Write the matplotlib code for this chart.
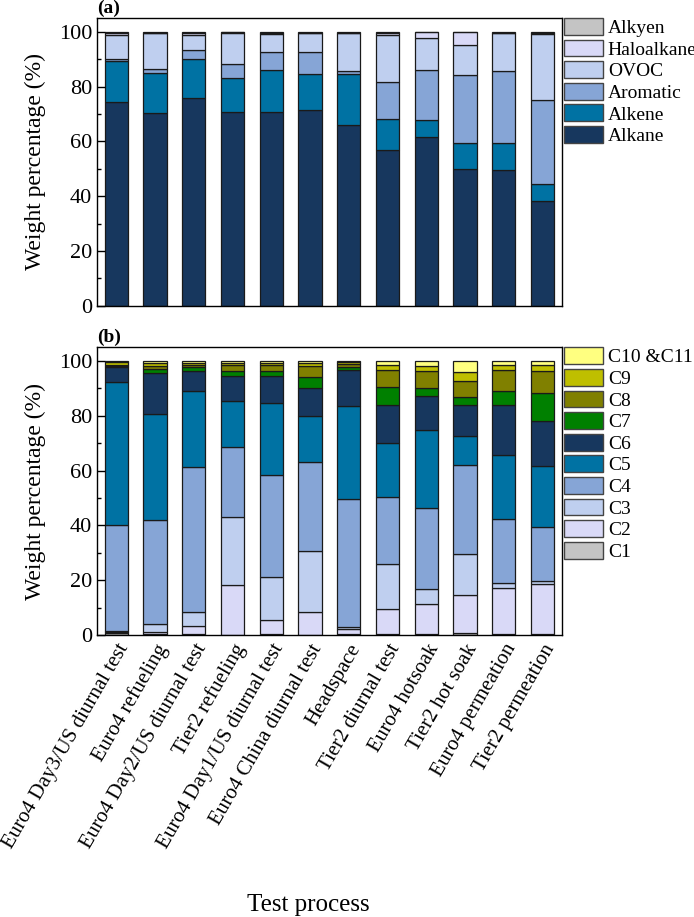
import matplotlib
matplotlib.use("Agg")
import matplotlib.pyplot as plt
import numpy as np
from matplotlib.patches import Patch

plt.rcParams["font.family"] = ["Liberation Serif", "DejaVu Serif"]

processes = ["Euro4 Day3/US diurnal test", "Euro4 refueling", "Euro4 Day2/US diurnal test",
             "Tier2 refueling", "Euro4 Day1/US diurnal test", "Euro4 China diurnal test",
             "Headspace", "Tier2 diurnal test", "Euro4 hotsoak", "Tier2 hot soak",
             "Euro4 permeation", "Tier2 permeation"]

# (a) composition by compound class, weight %
group_names = ["Alkane", "Alkene", "Aromatic", "OVOC", "Haloalkane", "Alkyen"]
alkane = [74.5, 70.3, 75.7, 70.6, 70.6, 71.4, 65.8, 56.7, 61.6, 49.8, 49.5, 38.2]
alkene = [14.8, 14.5, 14.4, 12.4, 15.4, 13.1, 18.7, 11.4, 6.2, 9.7, 10.0, 6.4]
aromatic = [0.6, 1.5, 3.2, 5.2, 6.7, 8.2, 1.3, 13.5, 18.1, 24.8, 26.1, 30.5]
ovoc = [8.9, 13.1, 5.6, 11.4, 6.4, 6.7, 13.6, 17.4, 12.0, 10.8, 13.8, 24.2]
haloalkane = [0.6, 0.3, 0.6, 0.2, 0.4, 0.3, 0.3, 0.5, 1.9, 4.7, 0.3, 0.3]
alkyen = [0.6, 0.3, 0.5, 0.2, 0.5, 0.3, 0.3, 0.5, 0.2, 0.2, 0.3, 0.4]
group_colors = ["#17375E", "#0072A3", "#86A5D6", "#BFCFEF", "#D9D9F7", "#C4C4C4"]

# (b) composition by carbon number, weight %
carbon_names = ["C1", "C2", "C3", "C4", "C5", "C6", "C7", "C8", "C9", "C10 &C11"]
c1 = [0.6, 0.2, 0.2, 0.1, 0.2, 0.1, 0.2, 0.4, 0.2, 0.6, 0.4, 0.2]
c2 = [0.4, 1.0, 3.1, 18.0, 5.2, 8.3, 1.9, 9.2, 11.1, 13.9, 16.8, 18.3]
c3 = [0.4, 2.8, 5.0, 25.1, 15.8, 22.3, 0.8, 16.4, 5.4, 14.9, 1.9, 1.3]
c4 = [38.7, 38.0, 52.9, 25.5, 37.1, 32.3, 46.6, 24.5, 29.5, 32.5, 23.2, 19.7]
c5 = [52.1, 38.8, 27.9, 16.8, 26.5, 17.0, 34.1, 19.7, 28.7, 10.8, 23.3, 22.3]
c6 = [5.5, 14.7, 7.4, 9.0, 9.7, 10.0, 13.1, 13.7, 12.3, 11.1, 18.2, 16.2]
c7 = [0.6, 1.6, 1.2, 1.9, 2.0, 4.3, 1.2, 6.6, 3.1, 2.9, 5.4, 10.2]
c8 = [0.4, 1.1, 1.0, 2.3, 2.2, 4.0, 1.0, 6.3, 5.9, 6.1, 7.4, 8.0]
c9 = [1.0, 1.2, 0.7, 0.7, 0.7, 1.1, 0.7, 1.7, 2.1, 3.1, 2.1, 2.3]
c10_11 = [0.3, 0.6, 0.6, 0.6, 0.6, 0.6, 0.4, 1.5, 1.7, 4.1, 1.3, 1.5]
carbon_colors = ["#C4C4C4", "#D9D9F7", "#BFCFEF", "#86A5D6", "#0072A3", "#17375E",
                 "#008000", "#808000", "#BFBF00", "#FFFF80"]


def stacked(ax, series, colors, names):
    x = np.arange(len(processes))
    bottom = np.zeros(len(processes))
    for vals, col in zip(series, colors):
        vals = np.array(vals)
        ax.bar(x, vals, 0.6, bottom=bottom, color=col, edgecolor="#1a1a1a", linewidth=0.9)
        bottom += vals
    ax.set_xlim(-0.5, 11.5)
    ax.set_ylim(0, 105)
    ax.set_yticks(range(0, 101, 20))
    ax.set_yticks(range(10, 100, 20), minor=True)
    ax.tick_params(axis="y", which="major", direction="in", length=6, width=1, labelsize=16)
    ax.tick_params(axis="y", which="minor", direction="in", length=3, width=1)
    ax.tick_params(axis="x", length=0)
    ax.set_ylabel("Weight percentage (%)", fontsize=17, labelpad=9)
    for sp in ax.spines.values():
        sp.set_linewidth(1.0)
    handles = [Patch(facecolor=c, edgecolor="#444444", linewidth=1.0, label=n)
               for n, c in zip(names, colors)][::-1]
    ax.legend(handles=handles, loc="upper left", bbox_to_anchor=(1.005, 1.0), frameon=False,
              fontsize=14, handlelength=2.0, handleheight=0.95, handletextpad=0.25,
              labelspacing=0.13, borderaxespad=0.0, borderpad=0.0)


fig = plt.figure(figsize=(6.94, 9.17), dpi=100)
ax_a = fig.add_axes([0.1398, 0.6666, 0.6696, 0.3137])
ax_b = fig.add_axes([0.1398, 0.3075, 0.6696, 0.3137])

stacked(ax_a, [alkane, alkene, aromatic, ovoc, haloalkane, alkyen], group_colors, group_names)
stacked(ax_b, [c1, c2, c3, c4, c5, c6, c7, c8, c9, c10_11], carbon_colors, carbon_names)

ax_a.set_xticks(range(len(processes)))
ax_a.set_xticklabels([])
ax_b.set_xticks(range(len(processes)))
ax_b.set_xticklabels(processes, rotation=60, ha="right", rotation_mode="anchor", fontsize=15)
ax_b.tick_params(axis="x", pad=4)
ax_b.set_xlabel("Test process", fontsize=18)
ax_b.xaxis.set_label_coords(0.454, -0.9)

ax_a.text(0.0, 1.003, "(a)", transform=ax_a.transAxes, fontsize=14, fontweight="bold",
          va="bottom", ha="left")
ax_b.text(0.0, 1.003, "(b)", transform=ax_b.transAxes, fontsize=14, fontweight="bold",
          va="bottom", ha="left")

fig.savefig("out.png", dpi=100)
